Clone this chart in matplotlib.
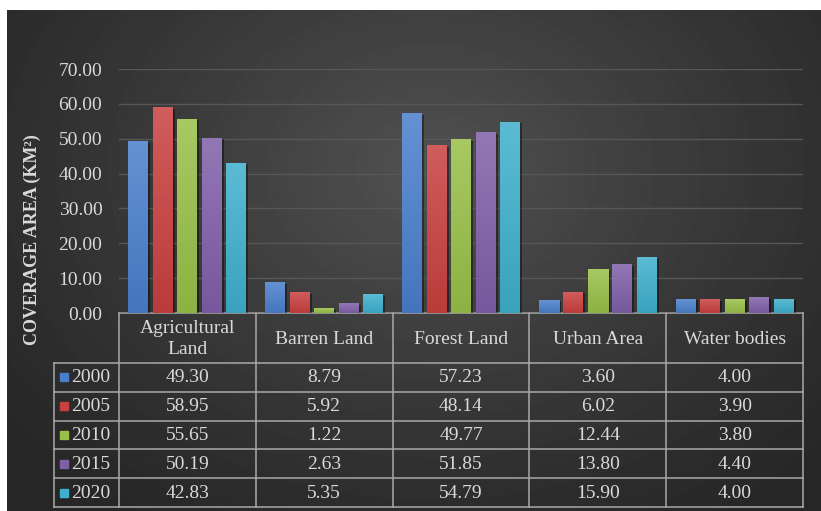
import numpy as np
import matplotlib
matplotlib.use("Agg")
import matplotlib.pyplot as plt
import matplotlib.patheffects as pe
from matplotlib.colors import LinearSegmentedColormap, to_rgb

# Land cover area per class (km2) for each survey year
categories = ["Agricultural\nLand", "Barren Land", "Forest Land", "Urban Area", "Water bodies"]
years = ["2000", "2005", "2010", "2015", "2020"]
area_2000 = [49.30, 8.79, 57.23, 3.60, 4.00]
area_2005 = [58.95, 5.92, 48.14, 6.02, 3.90]
area_2010 = [55.65, 1.22, 49.77, 12.44, 3.80]
area_2015 = [50.19, 2.63, 51.85, 13.80, 4.40]
area_2020 = [42.83, 5.35, 54.79, 15.90, 4.00]
series = [area_2000, area_2005, area_2010, area_2015, area_2020]
yticks = [0, 10, 20, 30, 40, 50, 60, 70]

colors = ["#4a7ecb", "#c8403f", "#98bf47", "#7f5fa8", "#3eafcc"]
txt = "#d9d9d9"
line_col = "#a9a9a9"

plt.rcParams["font.family"] = "Liberation Serif"

W, H = 821, 511
fig = plt.figure(figsize=(W / 100, H / 100), dpi=100, facecolor="white")

# background layer in pixel coordinates
bg = fig.add_axes([0, 0, 1, 1])
bg.set_axis_off()
yy, xx = np.mgrid[10:H, 7:W]
r = np.sqrt(((xx - 430) / 560.0) ** 2 + ((yy - 170) / 430.0) ** 2)
shade = np.clip(1 - r, 0, 1) ** 1.2
img = 0.15 + 0.17 * shade
bg.imshow(img, extent=[7, W, H, 10], cmap="gray", vmin=0, vmax=1,
          aspect="auto", interpolation="bilinear")
bg.set_xlim(0, W)
bg.set_ylim(H, 0)

# plot area
x_left, x_right = 119, 803
y_zero, y_top = 313, 69
ax = fig.add_axes([x_left / W, (H - y_zero) / H,
                   (x_right - x_left) / W, (y_zero - y_top) / H])
ax.patch.set_visible(False)
for s in ax.spines.values():
    s.set_visible(False)

slot = 24.5 / 136.8
bw = 20 / 136.8
shadow = [pe.SimplePatchShadow(offset=(1.5, -1), shadow_rgbFace="black", alpha=0.4),
          pe.Normal()]
grad = np.linspace(0, 1, 64).reshape(-1, 1)
for j, vals in enumerate(series):
    xs = np.arange(len(categories)) + (j - 2) * slot
    bars = ax.bar(xs, vals, width=bw, color=colors[j], zorder=3)
    base = np.array(to_rgb(colors[j]))
    cmap = LinearSegmentedColormap.from_list(
        "g%d" % j, [base * 0.93, base + (1 - base) * 0.15])
    for b in bars:
        b.set_path_effects(shadow)
        x0 = b.get_x()
        ax.imshow(grad, extent=[x0, x0 + b.get_width(), 0, b.get_height()],
                  cmap=cmap, aspect="auto", origin="lower", zorder=4)

ax.set_xlim(-0.5, len(categories) - 0.5)
ax.set_ylim(0, 70)
ax.set_yticks(yticks)
ax.set_yticklabels(["%.2f" % t for t in yticks])
ax.set_xticks([])
ax.tick_params(axis="y", length=0, pad=12, labelsize=14, labelcolor=txt)
ax.yaxis.grid(True, color="#575757", linewidth=1.0, zorder=0)
ax.set_axisbelow(True)

fig.text(32 / W, 1 - 240 / H, "COVERAGE AREA (KM²)", rotation=90, ha="center",
         va="center", color=txt, fontsize=13, fontweight="bold")

# data table below the plot
col_edges = np.linspace(x_left, x_right, len(categories) + 1)
row_edges = [363, 391.8, 420.6, 449.4, 478.2, 507]
leg_left = 54
bg.plot([x_left, x_right], [y_zero, y_zero], color=line_col, lw=1.1)
for y in row_edges:
    bg.plot([leg_left, x_right], [y, y], color=line_col, lw=1.1)
for x in col_edges:
    bg.plot([x, x], [y_zero, row_edges[-1]], color=line_col, lw=1.1)
bg.plot([leg_left, leg_left], [row_edges[0], row_edges[-1]], color=line_col, lw=1.1)

for i, cat in enumerate(categories):
    cx = (col_edges[i] + col_edges[i + 1]) / 2
    bg.text(cx, (y_zero + row_edges[0]) / 2 + 1, cat, ha="center", va="center",
            color=txt, fontsize=14, linespacing=1.3)

for j, vals in enumerate(series):
    cy = (row_edges[j] + row_edges[j + 1]) / 2
    bg.add_patch(plt.Rectangle((60, cy - 4), 8, 8, color=colors[j]))
    bg.text(71, cy + 0.5, years[j], ha="left", va="center", color=txt, fontsize=14)
    for i, v in enumerate(vals):
        cx = (col_edges[i] + col_edges[i + 1]) / 2
        bg.text(cx, cy + 0.5, "%.2f" % v, ha="center", va="center",
                color=txt, fontsize=14)

fig.savefig("out.png", dpi=100, facecolor="white")
